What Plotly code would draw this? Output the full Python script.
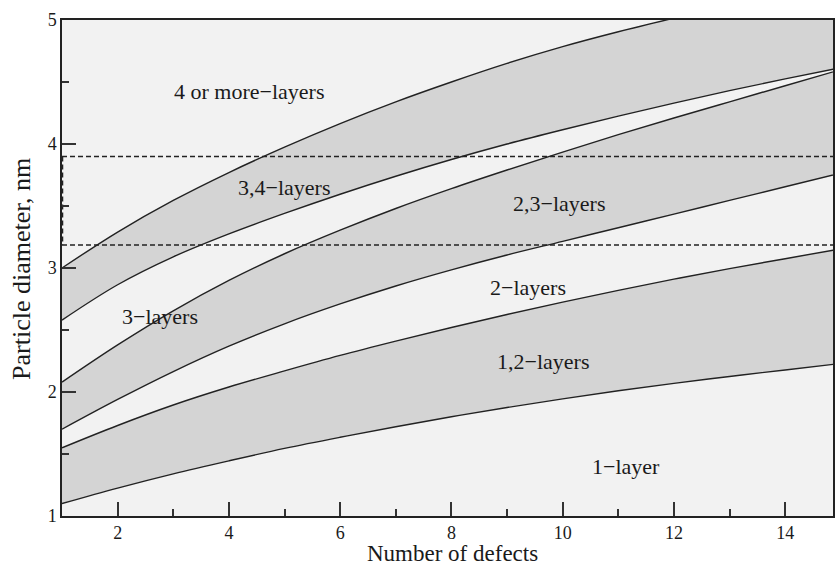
import plotly.graph_objects as go

# Number of defects (x)
defects = list(range(1, 16))

# Boundary curves (particle diameter, nm), bottom to top
curve_a = [1.10, 1.225, 1.34, 1.445, 1.545, 1.635, 1.72, 1.80, 1.875, 1.945, 2.01, 2.07, 2.125, 2.178, 2.23]
curve_b = [1.55, 1.73, 1.895, 2.04, 2.17, 2.295, 2.41, 2.52, 2.625, 2.725, 2.82, 2.91, 2.995, 3.075, 3.155]
curve_c = [1.70, 1.94, 2.165, 2.37, 2.55, 2.71, 2.855, 2.985, 3.105, 3.215, 3.325, 3.435, 3.545, 3.655, 3.765]
curve_d = [2.08, 2.38, 2.655, 2.90, 3.115, 3.305, 3.48, 3.64, 3.79, 3.935, 4.075, 4.21, 4.34, 4.47, 4.60]
curve_e = [2.58, 2.865, 3.09, 3.275, 3.44, 3.595, 3.74, 3.875, 4.00, 4.115, 4.225, 4.33, 4.43, 4.525, 4.615]
curve_f = [3.00, 3.29, 3.545, 3.77, 3.975, 4.165, 4.34, 4.50, 4.65, 4.785, 4.905, 5.015, 5.12, 5.22, 5.315]

# Horizontal dashed reference levels
ref_levels = [3.9, 3.185]

# Region labels
label_text = ["4 or more\u2212layers", "3,4\u2212layers", "2,3\u2212layers", "3\u2212layers",
              "2\u2212layers", "1,2\u2212layers", "1\u2212layer"]
label_x = [4.37, 4.99, 9.94, 2.76, 9.38, 9.65, 11.14]
label_y = [4.42, 3.65, 3.52, 2.61, 2.84, 2.25, 1.40]

X_RANGE = [1, 14.86]
Y_RANGE = [1, 5]

LINE_COLOR = "#222222"
BAND_COLOR = "#d4d4d4"
BG_COLOR = "#f2f2f2"
FONT = "Liberation Serif, Times New Roman, serif"

fig = go.Figure()
curves = [curve_a, curve_b, curve_c, curve_d, curve_e, curve_f]
fills = ["none", "tonexty", "none", "tonexty", "none", "tonexty"]
for ys, fl in zip(curves, fills):
    fig.add_trace(go.Scatter(
        x=defects, y=ys, mode="lines",
        line=dict(color=LINE_COLOR, width=1.4, shape="spline", smoothing=1.0),
        fill=fl, fillcolor=BAND_COLOR, showlegend=False, hoverinfo="skip",
    ))

for lv in ref_levels:
    fig.add_trace(go.Scatter(
        x=X_RANGE, y=[lv, lv], mode="lines",
        line=dict(color=LINE_COLOR, width=1.5, dash="5px,3px"),
        showlegend=False, hoverinfo="skip",
    ))

# dashed vertical segment on the left axis between the two levels
fig.add_trace(go.Scatter(
    x=[X_RANGE[0] + 0.01, X_RANGE[0] + 0.01], y=ref_levels, mode="lines",
    line=dict(color=LINE_COLOR, width=1.4, dash="5px,3px"),
    showlegend=False, hoverinfo="skip", cliponaxis=False,
))

for t, x, y in zip(label_text, label_x, label_y):
    fig.add_annotation(x=x, y=y, text=t, showarrow=False,
                       xanchor="center", yanchor="middle",
                       font=dict(family=FONT, size=22, color="#1a1a1a"))

fig.add_annotation(xref="paper", yref="paper", x=0.506, y=-0.0755,
                   xanchor="center", yanchor="middle",
                   text="Number of defects", showarrow=False,
                   font=dict(family=FONT, size=23, color="#1a1a1a"))
fig.add_annotation(xref="paper", yref="paper", x=-0.052, y=0.498,
                   xanchor="center", yanchor="middle",
                   text="Particle diameter, nm", showarrow=False, textangle=-90,
                   font=dict(family=FONT, size=26, color="#1a1a1a"))

axis_common = dict(
    showgrid=False, zeroline=False, showline=True, linecolor="#222", linewidth=1.5,
    mirror=True, ticks="inside", tickcolor="#333", tickwidth=1.5, ticklen=14,
    tickfont=dict(family=FONT, size=18, color="#1a1a1a"),
)
fig.update_xaxes(range=X_RANGE, tick0=0, dtick=2, **axis_common,
                 minor=dict(ticks="inside", ticklen=7, dtick=1, tickcolor="#333", tickwidth=1.5))
fig.update_yaxes(range=Y_RANGE, tick0=1, dtick=1, **axis_common,
                 minor=dict(ticks="inside", ticklen=7, dtick=0.5, tickcolor="#333", tickwidth=1.5))

fig.update_layout(
    width=835, height=565,
    margin=dict(l=62, r=0, t=20, b=49),
    plot_bgcolor=BG_COLOR, paper_bgcolor="white",
    font=dict(family=FONT),
)

fig.write_html("out.html")
